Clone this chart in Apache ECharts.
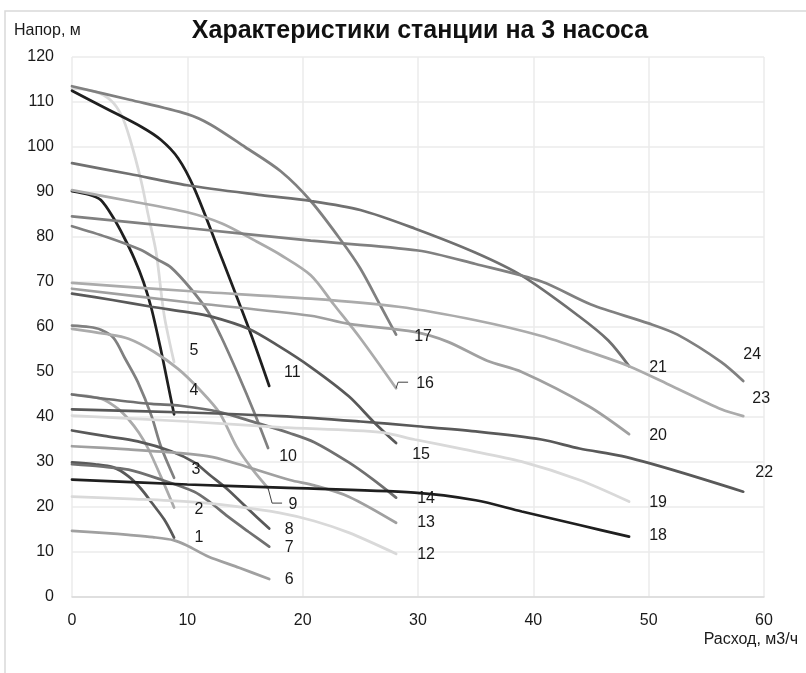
<!DOCTYPE html>
<html><head><meta charset="utf-8">
<script src="https://cdn.jsdelivr.net/npm/echarts@6/dist/echarts.min.js"></script>
<style>html,body{margin:0;padding:0;background:#fff}#c{width:806px;height:673px}</style>
</head><body><div id="c"></div>
<script>
// Pump curves: [flow m3/h, head m]
const curve1 = [[0,29.9],[2,29.5],[3.6,28.8],[4.9,26.8],[6,24],[6.9,21],[8,17.2],[8.85,13.2]];
const curve2 = [[0,45],[1.5,44.6],[2.8,43.8],[4,41.8],[4.9,39.5],[5.8,36.5],[6.6,33],[7.7,26.8],[8.85,19.9]];
const curve3 = [[0,60.3],[1.5,60],[2.5,59.4],[3.6,57.6],[4.6,53],[5.7,47.8],[6.9,40.2],[7.7,33.5],[8.85,26.5]];
const curve4 = [[0,90.2],[1.5,89.4],[2.5,88.2],[3.6,84.2],[4.5,80],[5.4,75.2],[6.2,70],[6.9,64],[7.7,55],[8.3,47.5],[8.85,40.6]];
const curve5 = [[0,113],[2,112.3],[3.4,110.3],[4.3,107],[5,102],[6,92.4],[6.6,85],[7.3,76.5],[8,62.5],[8.85,52.2]];
const curve6 = [[0,14.7],[3,14.2],[4.9,13.8],[7,13.3],[8.85,12.6],[10,11.4],[11.8,9],[14.5,6.5],[17.1,4]];
const curve7 = [[0,29.5],[2.5,29],[4.9,28.3],[7.7,26.1],[10.6,23.4],[12,21],[13.5,17.9],[15.3,14.5],[17.1,11.2]];
const curve8 = [[0,37],[2.8,35.8],[5.7,34.6],[8.6,32.4],[10.6,29.9],[12,27],[13.5,23.9],[15.3,19.5],[17.1,15.2]];
const curve9 = [[0,59.6],[2.8,58.5],[4.9,57.4],[7.1,54.5],[9.2,50.7],[11.1,46],[12.8,40.9],[14.3,33.3],[15.7,28.2],[17,24.2]];
const curve10 = [[0,82.4],[3,80],[5.9,77.2],[7.4,75],[8.6,73.2],[10.3,68.5],[11.8,63.4],[12.9,58],[14.4,49.5],[15.8,41],[17,33.1]];
const curve11 = [[0,112.5],[3,108.5],[6,104.5],[7.7,101.6],[9.2,97.5],[10.6,90.8],[12.8,76.5],[15.5,58.5],[17.1,46.9]];
const curve12 = [[0,22.3],[5,21.8],[10,21.2],[14,20.2],[18,18.7],[21,16.9],[24,14.3],[28.1,9.6]];
const curve13 = [[0,33.5],[4.9,32.8],[9.4,32],[12.2,31.1],[15.2,28.9],[18.9,26],[21,24.8],[24,22.3],[28.1,16.5]];
const curve14 = [[0,45],[3,44],[6.9,42.9],[9.4,42.5],[12.8,41.1],[16,38.7],[18.9,36.4],[21,34.4],[24,29.9],[26,26.3],[28.1,22.1]];
const curve15 = [[0,67.4],[3.5,66],[6.9,64.5],[10,63.3],[12.1,62.3],[15.3,59.6],[17.9,55.8],[20.7,51.1],[24,44.6],[26.2,38.8],[28.1,34.2]];
const curve16 = [[0,90.4],[5,88],[10,85.5],[13,83],[16,79],[18.1,76],[20.7,71.5],[22.7,65],[25,57.5],[28.1,46.4]];
const curve17 = [[0,113.5],[5,110.5],[10,107.3],[12,105],[15,100],[18.1,94.6],[20.7,88],[23.4,79],[25,73],[26.8,64.5],[28.1,58.3]];
const curve18 = [[0,26.1],[10,25],[18.1,24.3],[29.7,23.2],[35,21.5],[39,19],[44,16],[48.3,13.4]];
const curve19 = [[0,40.3],[10,39],[18.1,37.7],[26.8,36.6],[29.7,35],[34,32.8],[39,30.1],[44,26],[48.3,21.2]];
const curve20 = [[0,68.5],[10,65.5],[20.7,62.5],[24,60.7],[29.7,58.9],[32.6,56.7],[36,52.5],[39,50],[44.8,42.4],[48.3,36.2]];
const curve21 = [[0,96.4],[5,94],[10,91.5],[16.4,89.3],[20.7,88],[25,86],[29.7,81.9],[35,76.5],[39,71.4],[43.9,62.5],[46.5,57],[48.3,51.3]];
const curve22 = [[0,41.7],[10,41],[18.1,40.2],[25,39],[29.7,38],[35,36.8],[40.7,35],[44,33],[47.7,31.3],[52,28.3],[58.2,23.4]];
const curve23 = [[0,69.8],[10,68],[20.7,66.3],[28.3,64.5],[35,61.5],[40.7,58],[44.8,54.5],[48.3,51.3],[52,46.9],[56.3,41.7],[58.2,40.2]];
const curve24 = [[0,84.6],[10,82],[20.7,79.2],[30,77],[35,74],[40.7,70.1],[45,65],[50,60.8],[52.5,58.3],[56.3,52.2],[58.2,48]];

const curveLabels = ['1','2','3','4','5','6','7','8','9','10','11','12','13','14','15','16','17','18','19','20','21','22','23','24'];
const xTicks = [0,10,20,30,40,50,60];
const yTicks = [0,10,20,30,40,50,60,70,80,90,100,110,120];

const chartTitle = 'Характеристики станции на 3 насоса';
const yName = 'Напор, м';
const xName = 'Расход, м3/ч';

const curves = [curve1,curve2,curve3,curve4,curve5,curve6,curve7,curve8,curve9,curve10,curve11,curve12,
  curve13,curve14,curve15,curve16,curve17,curve18,curve19,curve20,curve21,curve22,curve23,curve24];

// styles
const palette = ['#595959','#ababab','#808080','#1f1f1f','#d9d9d9','#a0a0a0','#707070'];
const labelOffsets = [[25,0],[25,2],[22,-8],[20,-24],[20,-12],[20,1],[20,1],[20,1],[25,16],[20,9],[23,-13],
  [30,1],[30,0],[30,1],[25,11],[29,-5],[27,2],[29,-1],[29,1],[29,1],[29,1],[21,-19],[18,-18],[9,-26]];
const FONT = '"Liberation Sans", Arial, sans-serif';
const TXT = '#1a1a1a';

const chart = echarts.init(document.getElementById('c'));

const series = curves.map((d, i) => ({
  type: 'line',
  name: curveLabels[i],
  data: d,
  smooth: 0.3,
  symbol: 'none',
  showSymbol: false,
  lineStyle: { width: 2.75, color: palette[i % 7], cap: 'round' },
  itemStyle: { color: palette[i % 7] },
  emphasis: { disabled: true },
  endLabel: {
    show: true,
    formatter: curveLabels[i],
    color: TXT,
    fontSize: 16,
    fontFamily: FONT,
    align: 'center',
    verticalAlign: 'middle',
    distance: 0,
    offset: labelOffsets[i]
  }
}));

chart.setOption({
  animation: false,
  backgroundColor: '#fff',
  grid: { left: 72, right: 42, top: 57, bottom: 76 },
  xAxis: {
    type: 'value', min: xTicks[0], max: xTicks[xTicks.length - 1], interval: 10,
    axisLine: { show: true, lineStyle: { color: '#d9d9d9', width: 1.5 } },
    axisTick: { show: false },
    axisLabel: { color: TXT, fontSize: 16, fontFamily: FONT, margin: 16 },
    splitLine: { show: true, lineStyle: { color: '#ebebeb', width: 1.5 } }
  },
  yAxis: {
    type: 'value', min: yTicks[0], max: yTicks[yTicks.length - 1], interval: 10,
    axisLine: { show: false },
    axisTick: { show: false },
    axisLabel: { color: TXT, fontSize: 16, fontFamily: FONT, margin: 18 },
    splitLine: { show: true, lineStyle: { color: '#ebebeb', width: 1.5 } }
  },
  series: series
});

// leader lines for labels 9 and 16
const p9 = chart.convertToPixel({ seriesIndex: 8 }, curve9[curve9.length - 1]);
const p16 = chart.convertToPixel({ seriesIndex: 15 }, curve16[curve16.length - 1]);

chart.setOption({
  graphic: [
    { id: 'frame', type: 'rect', z: -10, shape: { x: 5, y: 11, width: 820, height: 700 },
      style: { fill: 'none', stroke: '#d9d9d9', lineWidth: 1.5 } },
    { id: 'title', type: 'text', x: 420, y: 31, style: { text: chartTitle, fontSize: 25, fontWeight: 'bold',
      fontFamily: FONT, fill: '#111', align: 'center', verticalAlign: 'middle' } },
    { id: 'yname', type: 'text', x: 14, y: 31, style: { text: yName, fontSize: 16, fontFamily: FONT, fill: TXT,
      align: 'left', verticalAlign: 'middle' } },
    { id: 'xname', type: 'text', x: 798, y: 640, style: { text: xName, fontSize: 16, fontFamily: FONT, fill: TXT,
      align: 'right', verticalAlign: 'middle' } },
    { id: 'lead9', type: 'polyline', z: 50,
      shape: { points: [[p9[0], p9[1]], [p9[0] + 4, p9[1] + 15], [p9[0] + 14, p9[1] + 15]] },
      style: { stroke: '#404040', lineWidth: 1, fill: null } },
    { id: 'lead16', type: 'polyline', z: 50,
      shape: { points: [[p16[0], p16[1]], [p16[0] + 2, p16[1] - 6], [p16[0] + 12, p16[1] - 6]] },
      style: { stroke: '#404040', lineWidth: 1, fill: null } }
  ]
});
</script>
</body></html>
